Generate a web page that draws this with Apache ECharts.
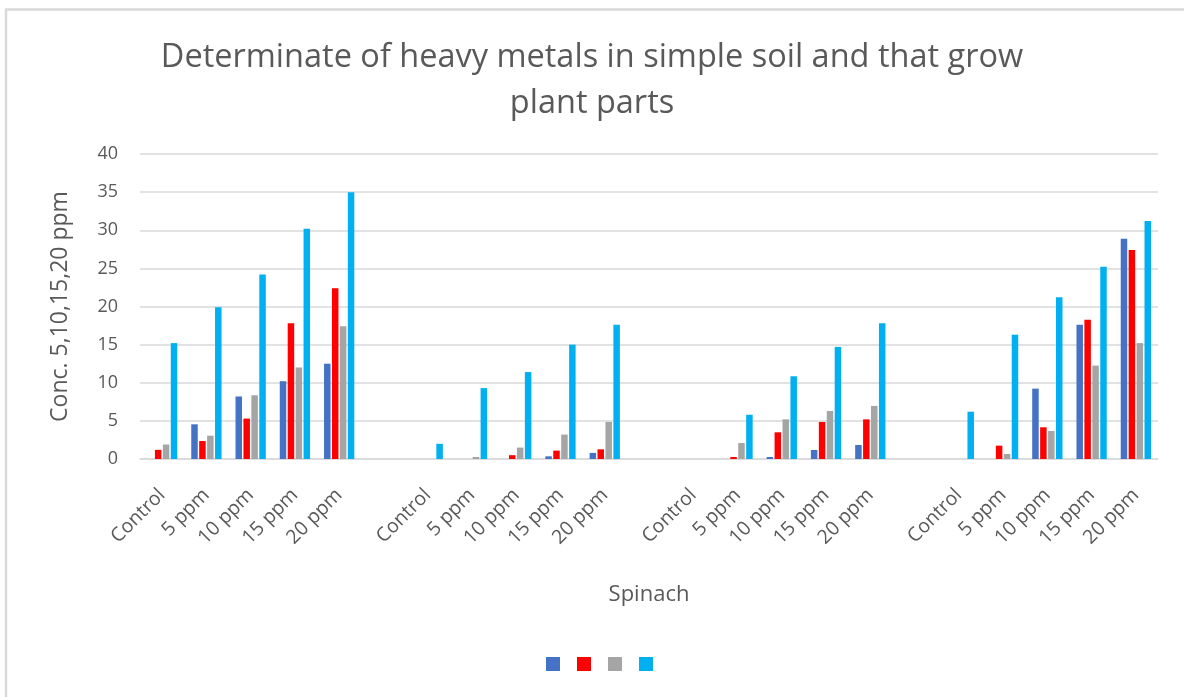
<!DOCTYPE html>
<html><head><meta charset="utf-8">
<script src="https://cdn.jsdelivr.net/npm/echarts@6/dist/echarts.min.js"></script>
<style>html,body{margin:0;padding:0;background:#fff}#c{width:1184px;height:697px}</style>
</head><body><div id="c"></div>
<script>
const groupLabels = ['Control','5 ppm','10 ppm','15 ppm','20 ppm'];
const categories = [].concat(groupLabels, [''], groupLabels, [''], groupLabels, [''], groupLabels);
const yTicks = [0,5,10,15,20,25,30,35,40];
// values per series (blank category between groups = null)
const series1 = [0,4.55,8.2,10.2,12.5, null, 0,0,0,0.35,0.8, null, 0,0,0.26,1.18,1.84, null, 0,0,9.23,17.6,28.9];
const series2 = [1.2,2.36,5.3,17.8,22.4, null, 0,0,0.5,1.1,1.27, null, 0,0.26,3.5,4.86,5.2, null, 0,1.75,4.16,18.25,27.4];
const series3 = [1.9,3.06,8.36,12.0,17.4, null, 0,0.26,1.5,3.2,4.86, null, 0,2.1,5.2,6.3,6.96, null, 0,0.66,3.68,12.25,15.2];
const series4 = [15.2,19.9,24.2,30.2,35.0, null, 2.0,9.3,11.4,15.0,17.6, null, 0,5.8,10.85,14.7,17.8, null, 6.2,16.3,21.2,25.2,31.2];
const seriesNames = ['S1','S2','S3','S4'];
const colors = ['#4472C4','#FF0000','#A5A5A5','#00B0F0'];

const font = '"Open Sans", "Noto Sans", sans-serif';
const chart = echarts.init(document.getElementById('c'), null, {renderer:'canvas'});
const data = [series1, series2, series3, series4];
chart.setOption({
  animation: false,
  backgroundColor: '#fff',
  textStyle: {fontFamily: font, color: '#595959'},
  title: {
    text: 'Determinate of heavy metals in simple soil and that grow\nplant parts',
    left: 'center', top: 30,
    textStyle: {fontFamily: font, fontSize: 32.5, fontWeight: 'normal', color: '#595959', lineHeight: 46}
  },
  legend: {
    top: 652, left: 541, itemWidth: 14, itemHeight: 14, itemGap: 17,
    icon: 'rect', formatter: () => '', data: seriesNames,
    textStyle: {padding: 0}
  },
  graphic: [{type:'rect', shape:{x:6,y:9.5,width:1200,height:700}, style:{fill:'none', stroke:'#d9d9d9', lineWidth:2.5}, silent:true}],
  grid: {left: 140, right: 26, top: 154, bottom: 238},
  xAxis: {
    type: 'category', data: categories,
    name: 'Spinach', nameLocation: 'middle', nameGap: 125,
    nameTextStyle: {fontFamily: font, fontSize: 22, color: '#595959'},
    axisLine: {lineStyle: {color: '#d9d9d9', width: 1.5}},
    axisTick: {show: false},
    axisLabel: {rotate: 45, interval: 0, fontFamily: font, fontSize: 19.5, color: '#595959', margin: 33},
  },
  yAxis: {
    type: 'value', min: 0, max: 40, interval: 5,
    name: 'Conc. 5,10,15,20 ppm', nameLocation: 'middle', nameGap: 68,
    nameTextStyle: {fontFamily: font, fontSize: 23, color: '#595959'},
    axisLine: {show: false}, axisTick: {show: false},
    axisLabel: {fontFamily: font, fontSize: 18, color: '#595959', margin: 22},
    splitLine: {lineStyle: {color: '#d9d9d9', width: 1.5}}
  },
  series: data.map((d, i) => ({
    name: seriesNames[i], type: 'bar', data: d, barWidth: 6.5, barGap: '22%',
    itemStyle: {color: colors[i]}
  }))
});
</script></body></html>
